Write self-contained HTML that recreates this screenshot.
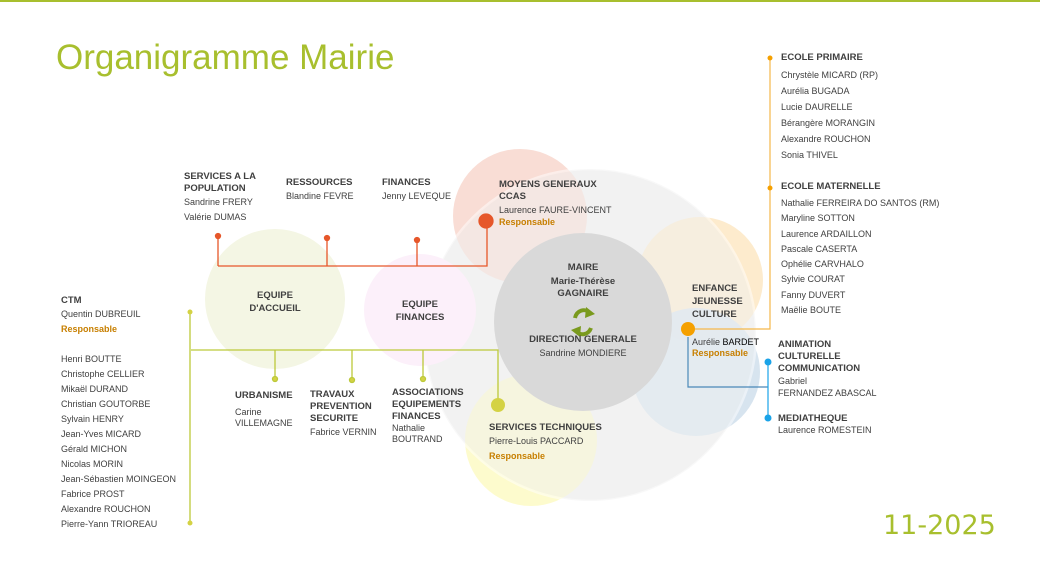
<!DOCTYPE html>
<html><head><meta charset="utf-8"><style>
body{margin:0;width:1040px;height:567px;position:relative;background:#fff;font-family:"Liberation Sans",sans-serif;color:#404040;overflow:hidden}
.t{position:absolute;font-size:9px;line-height:15px;white-space:nowrap}
.b{font-weight:bold;font-size:9.5px;line-height:12px}
.r{color:#c77f00;font-weight:bold}
.c{text-align:center}
</style></head><body>
<div style="position:absolute;left:0;top:0;width:1040px;height:2px;background:#a8bf2e"></div>
<svg width="1040" height="567" style="position:absolute;left:0;top:0">
<circle cx="590" cy="335" r="166" fill="#f2f2f2"/>
<circle cx="520" cy="216" r="67" fill="#f8d9d0" opacity="0.9"/>
<circle cx="700" cy="280" r="63" fill="#fde9c8" opacity="0.9"/>
<circle cx="696" cy="372" r="64" fill="#d5e3ee" opacity="0.95"/>
<circle cx="531" cy="440" r="66" fill="#fdfbc8" opacity="0.9"/>
<circle cx="590" cy="335" r="166" fill="#f2f2f2" opacity="0.5" stroke="#fff" stroke-width="2.5"/>
<circle cx="583" cy="322" r="89" fill="#d9d9d9"/>
<circle cx="275" cy="299" r="70" fill="#f4f6e4"/>
<circle cx="420" cy="310" r="56" fill="#fcf0fa"/>
<g stroke="#e6572a" stroke-width="1.3" fill="#e6572a">
<path d="M218 266H487V221M218 236V266M327 238V266M417 240V266" fill="none"/>
<circle cx="218" cy="236" r="2.5"/><circle cx="327" cy="238" r="2.5"/><circle cx="417" cy="240" r="2.5"/><circle cx="486" cy="221" r="7"/>
</g>
<g stroke="#bcc93a" stroke-width="1.3" fill="#d4d244">
<path d="M191 350H498V405M275 350V379M352 350V380M423 350V379M190 312V523" fill="none"/>
<circle cx="275" cy="379" r="2.5"/><circle cx="352" cy="380" r="2.5"/><circle cx="423" cy="379" r="2.5"/><circle cx="498" cy="405" r="7" stroke="none"/>
<circle cx="190" cy="312" r="2.5" stroke="none"/><circle cx="190" cy="523" r="2.5" stroke="none"/>
</g>
<g stroke="#f5b84a" stroke-width="1.2" fill="#f5a000">
<path d="M688 329H770V58" fill="none"/>
<circle cx="770" cy="58" r="2.5" stroke="none"/><circle cx="770" cy="188" r="2.5" stroke="none"/><circle cx="688" cy="329" r="7" stroke="none"/>
</g>
<g stroke="#4a88b8" stroke-width="1.2" fill="#1aa3e8">
<path d="M688 337V387H768" fill="none"/><path d="M768 362V418" stroke="#1aa3e8" fill="none"/>
<circle cx="768" cy="362" r="3.5" stroke="none"/><circle cx="768" cy="418" r="3.5" stroke="none"/>
</g>
<g fill="none" stroke="#7a9a1e" stroke-width="4">
<path d="M575 318 A9 10 0 0 1 590 313"/><path d="M591 328 A9 10 0 0 1 576 331"/>
</g>
<path d="M586 307 L595 314 L585 318z M580 337 L571 330 L581 326z" fill="#7a9a1e"/>
</svg>
<div style="position:absolute;left:56px;top:38px;font-size:35px;color:#a8bf2e">Organigramme Mairie</div>
<div style="position:absolute;left:883px;top:510px;font-size:27px;color:#a8bf2e;font-family:'DejaVu Sans',sans-serif;letter-spacing:0px">11-2025</div>

<div class="t" style="left:184px;top:171px"><div class="b">SERVICES A LA<br>POPULATION</div>Sandrine FRERY<br>Valérie DUMAS</div>
<div class="t" style="left:286px;top:177px"><div class="b">RESSOURCES</div>Blandine FEVRE</div>
<div class="t" style="left:382px;top:177px"><div class="b">FINANCES</div>Jenny LEVEQUE</div>
<div class="t" style="left:499px;top:179px"><div class="b">MOYENS GENERAUX<br>CCAS</div>Laurence FAURE-VINCENT<br><span class="r" style="line-height:8px;display:block">Responsable</span></div>
<div class="t b c" style="left:235px;top:289px;width:80px;line-height:13px">EQUIPE<br>D'ACCUEIL</div>
<div class="t b c" style="left:380px;top:298px;width:80px;line-height:13px">EQUIPE<br>FINANCES</div>
<div class="t c" style="left:503px;top:260px;width:160px"><div class="b" style="line-height:16px">MAIRE</div><div class="b">Marie-Thérèse<br>GAGNAIRE</div><div class="b" style="margin-top:34px">DIRECTION GENERALE</div>Sandrine MONDIERE</div>
<div class="t" style="left:61px;top:295px"><div class="b">CTM</div>Quentin DUBREUIL<br><span class="r">Responsable</span><br><br>Henri BOUTTE<br>Christophe CELLIER<br>Mikaël DURAND<br>Christian GOUTORBE<br>Sylvain HENRY<br>Jean-Yves MICARD<br>Gérald MICHON<br>Nicolas MORIN<br>Jean-Sébastien MOINGEON<br>Fabrice PROST<br>Alexandre ROUCHON<br>Pierre-Yann TRIOREAU</div>
<div class="t" style="left:235px;top:390px;line-height:11px"><div class="b" style="margin-bottom:5px">URBANISME</div>Carine<br>VILLEMAGNE</div>
<div class="t" style="left:310px;top:389px"><div class="b">TRAVAUX<br>PREVENTION<br>SECURITE</div>Fabrice VERNIN</div>
<div class="t" style="left:392px;top:387px;line-height:11px"><div class="b">ASSOCIATIONS<br>EQUIPEMENTS<br>FINANCES</div>Nathalie<br>BOUTRAND</div>
<div class="t" style="left:489px;top:422px"><div class="b">SERVICES TECHNIQUES</div>Pierre-Louis PACCARD<br><span class="r" style="line-height:10px">Responsable</span></div>
<div class="t" style="left:692px;top:282px"><div class="b" style="line-height:13px">ENFANCE<br>JEUNESSE<br>CULTURE</div><div style="margin-top:16px;line-height:11px">Aurélie <span style="color:#000">BARDET</span><br><span class="r">Responsable</span></div></div>
<div class="t" style="left:778px;top:339px;line-height:12px"><div class="b">ANIMATION<br>CULTURELLE<br>COMMUNICATION</div>Gabriel<br>FERNANDEZ ABASCAL</div>
<div class="t" style="left:778px;top:413px;line-height:11px"><div class="b">MEDIATHEQUE</div>Laurence ROMESTEIN</div>
<div class="t" style="left:781px;top:52px;line-height:16px"><div class="b" style="line-height:12px;margin-bottom:3px">ECOLE PRIMAIRE</div>Chrystèle MICARD (RP)<br>Aurélia BUGADA<br>Lucie DAURELLE<br>Bérangère MORANGIN<br>Alexandre ROUCHON<br>Sonia THIVEL</div>
<div class="t" style="left:781px;top:181px;line-height:15.3px"><div class="b" style="line-height:12px;margin-bottom:3px">ECOLE MATERNELLE</div>Nathalie FERREIRA DO SANTOS (RM)<br>Maryline SOTTON<br>Laurence ARDAILLON<br>Pascale CASERTA<br>Ophélie CARVHALO<br>Sylvie COURAT<br>Fanny DUVERT<br>Maëlie BOUTE</div>
</body></html>
